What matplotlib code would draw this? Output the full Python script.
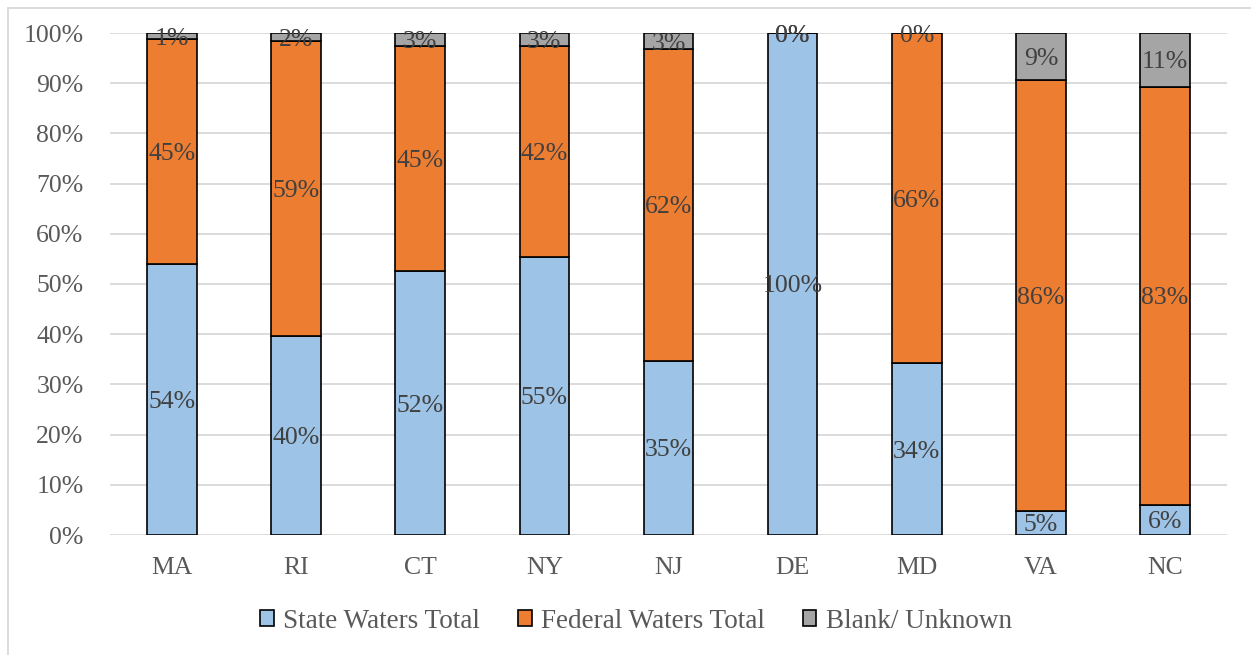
import matplotlib
matplotlib.use("Agg")
import matplotlib.pyplot as plt
from matplotlib.patches import Rectangle
import numpy as np

states = ["MA", "RI", "CT", "NY", "NJ", "DE", "MD", "VA", "NC"]
state_waters = [54.0, 39.7, 52.5, 55.4, 34.7, 100.0, 34.2, 4.8, 6.0]
federal_waters = [44.8, 58.7, 44.9, 42.0, 62.1, 0.0, 65.8, 85.9, 83.3]
blank_unknown = [1.2, 1.6, 2.6, 2.6, 3.2, 0.0, 0.0, 9.3, 10.7]
series_names = ["State Waters Total", "Federal Waters Total", "Blank/ Unknown"]
series_colors = ["#9dc3e6", "#ed7d31", "#a5a5a5"]
ytick_vals = [0, 10, 20, 30, 40, 50, 60, 70, 80, 90, 100]

plt.rcParams['font.family'] = ['Liberation Serif', 'DejaVu Serif']
FS = 18.5
TICK_C = "#595959"
LBL_C = "#404040"

fig = plt.figure(figsize=(12.51, 6.55), dpi=100)
ax = fig.add_axes([110/1251, 120/655, (1227-110)/1251, 502/655])

x = np.arange(len(states))
bottom = np.zeros(len(states))
for vals, name, col in zip([state_waters, federal_waters, blank_unknown], series_names, series_colors):
    v = np.array(vals) / 100.0
    ax.bar(x, v, width=0.4, bottom=bottom, color=col, edgecolor="black",
           linewidth=1.2, label=name, zorder=3)
    for xi, b, h, raw in zip(x, bottom, v, vals):
        ax.text(xi, b + h / 2, f"{raw:.0f}%", ha="center", va="center_baseline",
                fontsize=FS, color=LBL_C, zorder=4)
    bottom = bottom + v

ax.set_xlim(-0.5, len(states) - 0.5)
ax.set_ylim(0, 1.0)
ax.set_yticks([t / 100 for t in ytick_vals])
ax.set_yticklabels([f"{t}%" for t in ytick_vals])
ax.set_xticks(x)
ax.set_xticklabels(states)
ax.tick_params(axis="y", length=0, pad=19, labelsize=FS, labelcolor=TICK_C)
ax.tick_params(axis="x", length=0, pad=16, labelsize=FS, labelcolor=TICK_C)
ax.grid(axis="y", color="#d9d9d9", linewidth=1.3, zorder=0)
ax.set_axisbelow(True)
for s in ax.spines.values():
    s.set_visible(False)

leg = fig.legend(loc="center", bbox_to_anchor=(636/1251, 1 - 621/655), ncol=3,
                 frameon=False, fontsize=19.5, handlelength=0.5, handleheight=0.5,
                 handletextpad=0.35, columnspacing=1.4, labelcolor=TICK_C)

fig.patches.append(Rectangle((8/1251, -0.1), 1.2, (651 - 4) / 655 + 0.1,
                             transform=fig.transFigure, fill=False,
                             edgecolor="#d9d9d9", linewidth=1.3))

fig.savefig("out.png", dpi=100)
